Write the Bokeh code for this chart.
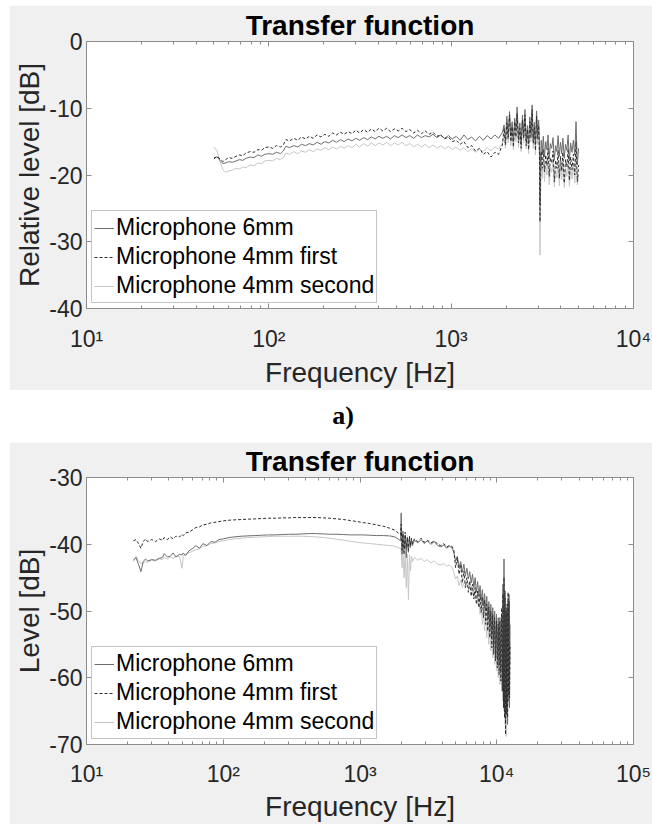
from bokeh.plotting import figure
from bokeh.models import Range1d, FixedTicker, LogAxis, LinearAxis, Legend, LegendItem, Div
from bokeh.layouts import column
from bokeh.embed import file_html
from bokeh.resources import INLINE

# ---------------- data: panel a (Relative level) ----------------
series_names = ["Microphone 6mm", "Microphone 4mm first", "Microphone 4mm second"]

top_freq_low = [50, 52, 54, 56, 58, 60, 63, 66, 69, 72, 75, 79, 83, 87, 91, 95, 100, 105, 110, 116,
                120, 124, 130, 137, 144, 151, 159, 167, 175, 184, 193, 203, 213, 224, 235, 247, 259,
                272, 286, 300, 315, 331, 348, 365, 383, 402, 422, 443, 465, 488, 512, 538, 565, 593,
                623, 654, 687, 721, 757, 795, 835, 877, 920, 966, 1015, 1065, 1120, 1175, 1235, 1295,
                1360, 1430, 1500, 1575, 1655, 1735, 1820, 1910]
top_freq_high = [1950, 1985, 2020, 2055, 2090, 2125, 2160, 2195, 2230, 2265, 2300, 2340, 2380, 2420,
                 2460, 2500, 2540, 2580, 2620, 2660, 2700, 2740, 2780, 2820, 2860, 2900, 2940, 2980,
                 3020, 3050, 3070, 3090, 3120, 3160, 3200, 3250, 3300, 3350, 3400, 3450, 3500, 3560,
                 3620, 3680, 3740, 3800, 3860, 3920, 3980, 4040, 4100, 4170, 4240, 4310, 4380, 4450,
                 4520, 4600, 4680, 4760, 4840, 4920, 5000]

top_6mm_low = [-17.4, -17.3, -17.8, -18.3, -18.2, -18.0, -18.1, -17.9, -17.7, -17.8, -17.5,
               -17.3, -17.4, -17.0, -17.2, -16.9, -16.8, -16.9, -16.6, -16.8, -16.4,
               -15.7, -15.9, -15.6, -15.8, -15.4, -15.6, -15.3, -15.5, -15.1, -15.4,
               -15.0, -15.2, -14.8, -15.1, -14.7, -15.0, -14.6, -14.9, -14.5, -14.8,
               -14.4, -14.7, -14.3, -14.6, -14.2, -14.5, -14.2, -14.6, -14.1, -14.4,
               -14.0, -14.4, -14.1, -14.5, -14.0, -14.4, -14.1, -14.3, -13.9, -14.4,
               -14.0, -14.5, -14.1, -14.6, -14.2, -14.8, -14.0, -14.7, -14.3, -14.9,
               -14.2, -14.8, -14.1, -14.6, -14.0, -14.5, -13.6]
top_6mm_high = [-12.5, -14.8, -11.2, -13.9, -10.5, -14.2, -12.0, -15.0, -11.5, -13.2, -9.8, -14.5,
                -12.2, -15.3, -11.0, -13.8, -10.2, -14.9, -12.6, -15.2, -11.3, -13.5, -9.5, -14.6,
                -12.1, -15.4, -10.4, -13.7, -11.8, -15.5, -24.5, -17.5, -14.8, -16.9, -14.2, -17.3,
                -15.0, -16.2, -14.0, -17.6, -15.3, -16.0, -14.4, -17.8, -15.6, -16.5, -14.1, -17.2,
                -15.1, -16.8, -14.5, -17.5, -15.4, -16.3, -14.0, -17.9, -15.2, -16.6, -14.8, -17.0,
                -12.0, -18.5, -16.0]

top_4first_low = [-17.6, -17.2, -17.6, -18.0, -17.7, -17.4, -17.5, -17.2, -17.0, -17.1, -16.7,
                  -16.5, -16.6, -16.2, -16.3, -15.9, -15.8, -16.0, -15.6, -15.8, -15.5,
                  -14.7, -14.9, -14.5, -14.8, -14.3, -14.6, -14.2, -14.5, -14.0, -14.3,
                  -13.9, -14.2, -13.7, -14.0, -13.6, -13.9, -13.5, -13.8, -13.3, -13.7,
                  -13.2, -13.6, -13.1, -13.5, -13.0, -13.4, -13.0, -13.5, -13.1, -13.4,
                  -13.0, -13.5, -13.2, -13.7, -13.3, -13.8, -13.4, -13.9, -13.6, -14.2,
                  -14.0, -14.6, -14.3, -15.0, -14.8, -15.4, -15.0, -15.9, -15.6, -16.4,
                  -16.0, -16.9, -16.5, -17.3, -16.6, -16.9, -15.5]
top_4first_high = [-13.0, -15.5, -12.2, -14.6, -11.0, -15.0, -12.8, -15.8, -12.0, -14.3, -10.8, -15.2,
                   -13.0, -16.0, -11.8, -14.5, -11.0, -15.6, -13.2, -16.2, -12.0, -14.4, -10.2, -15.3,
                   -12.9, -16.3, -11.2, -14.6, -12.6, -16.8, -27.0, -21.0, -16.5, -19.0, -16.2, -19.5,
                   -17.0, -18.6, -16.0, -20.2, -17.4, -18.2, -16.4, -21.0, -17.8, -19.0, -16.3, -20.5,
                   -17.2, -19.4, -16.6, -21.2, -17.7, -18.8, -16.1, -20.8, -17.3, -19.2, -16.9, -20.0,
                   -15.0, -21.0, -18.5]

top_4second_low = [-15.8, -16.4, -18.0, -19.2, -19.6, -19.4, -19.3, -19.0, -19.1, -18.8, -18.9,
                   -18.5, -18.6, -18.2, -18.3, -17.9, -17.8, -17.9, -17.5, -17.7, -17.4,
                   -16.7, -16.9, -16.5, -16.8, -16.4, -16.6, -16.2, -16.5, -16.1, -16.3,
                   -15.9, -16.2, -15.8, -16.1, -15.7, -16.0, -15.6, -15.9, -15.4, -15.8,
                   -15.3, -15.7, -15.2, -15.6, -15.2, -15.5, -15.1, -15.6, -15.2, -15.5,
                   -15.1, -15.6, -15.3, -15.8, -15.4, -15.8, -15.4, -15.9, -15.5, -16.0,
                   -15.6, -16.1, -15.7, -16.2, -15.8, -16.3, -15.9, -16.5, -16.0, -16.6,
                   -16.1, -16.5, -15.9, -16.4, -15.8, -16.1, -15.2]
top_4second_high = [-14.0, -16.0, -12.8, -15.2, -11.8, -15.6, -13.5, -16.2, -12.6, -15.0, -11.5, -15.9,
                    -13.6, -16.5, -12.5, -15.2, -11.8, -16.1, -13.8, -16.8, -12.6, -15.0, -11.0, -16.0,
                    -13.5, -17.0, -12.0, -15.4, -13.4, -18.0, -32.0, -23.5, -18.0, -20.5, -17.6, -21.0,
                    -18.5, -20.0, -17.5, -21.5, -18.8, -19.6, -17.9, -21.8, -19.2, -20.4, -17.8, -21.6,
                    -18.6, -20.7, -18.0, -21.9, -19.0, -20.2, -17.6, -21.7, -18.8, -20.6, -18.2, -21.2,
                    -17.0, -21.5, -20.0]

# ---------------- data: panel b (Level) ----------------
bot_freq_low = [22, 23, 24, 25, 26, 27, 28, 30, 32, 34, 36, 37, 39, 41, 43, 45, 48, 50, 51, 53,
                56, 60, 63, 67, 71, 76, 81, 87, 93, 100, 110, 120, 135, 150, 170, 190, 215, 240, 270,
                300, 340, 380, 430, 480, 540, 600, 680, 760, 850, 950, 1050, 1180, 1320, 1480, 1650,
                1800, 1900, 1980]
bot_freq_spike = [2000, 2030, 2060, 2100, 2140, 2180, 2220, 2260, 2300, 2340, 2380, 2420]
bot_freq_mid = [2500, 2650, 2800, 2950, 3100, 3300, 3500, 3700, 3900, 4100, 4300, 4500, 4700, 4850]
bot_freq_high = [5000, 5150, 5300, 5450, 5600, 5750, 5900, 6050, 6200, 6350, 6500, 6650, 6800, 6950,
                 7100, 7250, 7400, 7550, 7700, 7850, 8000, 8150, 8300, 8450, 8600, 8750, 8900, 9050,
                 9200, 9350, 9500, 9650, 9800, 9950, 10100, 10250, 10400, 10550, 10700, 10850, 11000,
                 11100, 11200, 11300, 11400, 11500, 11600, 11700, 11800, 11900, 12000, 12100, 12200,
                 12300, 12400, 12500]

bot_6mm = [-42.4, -42.0, -43.0, -44.1, -42.6, -42.2, -42.5, -42.3, -42.4, -42.1,
           -42.0, -41.4, -41.9, -41.8, -41.3, -41.9, -41.5, -41.6, -41.3, -41.7,
           -41.0, -40.6, -40.2, -40.6, -39.9, -40.2, -39.6, -39.7, -39.3, -39.2,
           -39.0, -38.9, -38.8, -38.75, -38.7, -38.65, -38.6, -38.6, -38.55, -38.5,
           -38.5, -38.45, -38.4, -38.4, -38.45, -38.5, -38.5, -38.55, -38.6, -38.6,
           -38.6, -38.65, -38.7, -38.7, -38.75, -38.9, -39.2, -39.5,
           -35.3, -41.5, -38.0, -40.8, -38.6, -42.0, -38.9, -41.2, -39.0, -40.5, -39.3, -40.2,
           -39.4, -39.8, -39.3, -39.9, -39.5, -40.0, -39.6, -40.2, -40.4, -40.1, -40.6, -40.3, -40.5, -41.2,
           -42.5, -41.8, -43.5, -42.6, -44.2, -43.0, -44.8, -43.6, -45.2, -44.1,
           -45.8, -44.5, -46.5, -45.0, -47.2, -45.6, -47.8, -46.2, -48.5, -46.8,
           -49.2, -47.4, -50.0, -47.8, -51.0, -48.6, -52.5, -49.0, -53.8, -49.5,
           -55.0, -50.0, -56.5, -50.5, -57.0, -51.0, -58.0, -51.5, -59.0, -50.5,
           -61.0, -46.0, -63.0, -42.2, -65.0, -48.0, -66.5, -49.5, -64.0, -50.0,
           -67.0, -48.5, -63.5, -47.5, -64.5, -52.0]
bot_4first = [-39.5, -39.3, -39.9, -40.6, -39.6, -39.2, -39.6, -39.3, -39.6, -39.2,
              -39.4, -39.0, -39.3, -38.9, -39.2, -38.8, -38.9, -38.5, -38.7, -38.3,
              -38.2, -37.8, -37.5, -37.4, -37.1, -37.0, -36.8, -36.7, -36.6, -36.5,
              -36.4, -36.35, -36.3, -36.25, -36.2, -36.15, -36.1, -36.1, -36.05, -36.05,
              -36.0, -36.0, -36.0, -36.0, -36.05, -36.1, -36.2, -36.3, -36.45, -36.6,
              -36.75, -36.9, -37.1, -37.3, -37.6, -37.9, -38.3, -38.6,
              -37.0, -40.9, -38.4, -41.5, -38.2, -40.6, -39.0, -40.9, -38.8, -40.2, -39.1, -39.9,
              -39.2, -39.6, -39.1, -39.7, -39.4, -39.8, -39.5, -40.0, -40.2, -39.9, -40.4, -40.2, -40.3, -40.8,
              -43.5, -42.0, -44.5, -43.0, -45.8, -44.0, -46.5, -45.0, -47.2, -45.5,
              -47.8, -46.0, -48.2, -46.5, -49.0, -47.0, -49.5, -47.5, -50.2, -48.0,
              -51.0, -48.4, -52.0, -49.0, -53.0, -49.4, -54.0, -50.0, -55.5, -50.5,
              -56.5, -51.0, -57.5, -51.5, -58.5, -52.0, -59.5, -51.0, -60.5, -49.5,
              -62.0, -47.5, -64.5, -45.0, -66.0, -47.0, -68.5, -50.0, -65.5, -49.0,
              -66.0, -47.2, -62.5, -48.5, -63.0, -55.0]
bot_4second = [-42.6, -41.8, -42.4, -42.9, -42.8, -42.6, -42.7, -42.4, -42.5, -42.2,
               -42.3, -42.0, -42.2, -41.9, -42.1, -41.8, -41.9, -43.6, -41.7, -41.5,
               -41.3, -41.0, -40.8, -40.7, -40.3, -40.2, -39.9, -39.8, -39.6, -39.5,
               -39.3, -39.2, -39.1, -39.0, -38.95, -38.9, -38.85, -38.8, -38.8, -38.8,
               -38.8, -38.8, -38.85, -38.9, -39.0, -39.1, -39.25, -39.4, -39.55, -39.7,
               -39.8, -39.9, -40.0, -40.1, -40.2, -40.3, -40.5, -40.6,
               -41.0, -43.5, -40.8, -45.0, -41.2, -46.5, -41.5, -48.3, -41.6, -44.0, -41.8, -42.6,
               -42.0, -42.4, -42.1, -42.6, -42.3, -42.8, -42.5, -43.0, -43.1, -42.9, -43.3, -43.1, -43.4, -44.2,
               -45.2, -44.8, -46.2, -45.4, -46.5, -45.8, -46.0, -46.4, -45.8, -46.6,
               -46.2, -47.5, -47.0, -48.2, -47.5, -49.0, -48.0, -50.5, -48.8, -52.0,
               -49.5, -53.0, -50.0, -54.0, -50.5, -55.0, -51.0, -56.0, -51.5, -57.0,
               -52.0, -58.0, -52.5, -59.0, -53.0, -60.0, -53.5, -61.0, -53.0, -62.0,
               -52.0, -63.5, -51.0, -65.0, -50.0, -67.0, -51.5, -68.8, -52.0, -66.0,
               -50.5, -64.0, -49.5, -62.5, -51.0, -58.0]

top_x_ticks = [10, 100, 1000, 10000]
top_x_labels = ["10\u00b9", "10\u00b2", "10\u00b3", "10\u2074"]
top_y_ticks = [-40, -30, -20, -10, 0]
top_y_labels = ["-40", "-30", "-20", "-10", "0"]
bot_x_ticks = [10, 100, 1000, 10000, 100000]
bot_x_labels = ["10\u00b9", "10\u00b2", "10\u00b3", "10\u2074", "10\u2075"]
bot_y_ticks = [-70, -60, -50, -40, -30]
bot_y_labels = ["-70", "-60", "-50", "-40", "-30"]

top_freq = top_freq_low + top_freq_high
top_series = [top_6mm_low + top_6mm_high, top_4first_low + top_4first_high,
              top_4second_low + top_4second_high]
bot_freq = bot_freq_low + bot_freq_spike + bot_freq_mid + bot_freq_high
bot_series = [bot_6mm, bot_4first, bot_4second]

# ---------------- styling ----------------
FONT = "Liberation Sans"
GRAY_BG = "#f0f0f0"
AX_COL = "#8c8c8c"
TXT = "#262626"
line_colors = ["#6e6e6e", "#2e2e2e", "#c6c6c6"]
line_dashes = ["solid", "3 2", "solid"]
draw_order = [2, 0, 1]   # light curve underneath, dark curves on top


def minor_positions(decades):
    out = []
    for d in decades:
        for m in range(2, 10):
            out.append(m * d)
    return out


def make_panel(freq, series, xr, yr, xticks, xlabels, yticks, ylabels, ylabel, height, top_margin,
               top_border, bottom_border, xlab_standoff, xaxis_label_standoff):
    p = figure(width=643, height=height, x_axis_type="log", x_range=Range1d(*xr), y_range=Range1d(*yr),
               output_backend="svg", toolbar_location=None, title="Transfer function",
               min_border_left=77, min_border_right=19, min_border_top=top_border,
               min_border_bottom=bottom_border, margin=(top_margin, 0, 0, 9))
    p.background_fill_color = "white"
    p.border_fill_color = GRAY_BG
    p.outline_line_color = AX_COL
    p.outline_line_width = 1
    p.grid.visible = False

    p.title.text_font = FONT
    p.title.text_font_size = "28px"
    p.title.text_font_style = "bold"
    p.title.text_color = "#000000"
    p.title.align = "center"
    p.title.standoff = 2

    xa = p.xaxis[0]
    xa.ticker = FixedTicker(ticks=xticks, minor_ticks=minor_positions(xticks[:-1]))
    xa.major_label_overrides = {t: lab for t, lab in zip(xticks, xlabels)}
    xa.axis_label = "Frequency [Hz]"
    xa.major_label_standoff = xlab_standoff
    xa.axis_label_standoff = xaxis_label_standoff

    ya = p.yaxis[0]
    ya.ticker = FixedTicker(ticks=yticks, minor_ticks=[])
    ya.major_label_overrides = {t: lab for t, lab in zip(yticks, ylabels)}
    ya.axis_label = ylabel
    ya.major_label_standoff = 4
    ya.axis_label_standoff = 1

    for ax in (xa, ya):
        ax.axis_line_color = AX_COL
        ax.major_tick_line_color = AX_COL
        ax.minor_tick_line_color = AX_COL
        ax.major_tick_in = 5
        ax.major_tick_out = 0
        ax.minor_tick_in = 3
        ax.minor_tick_out = 0
        ax.major_label_text_font = FONT
        ax.major_label_text_font_size = "23px"
        ax.major_label_text_color = TXT
        ax.axis_label_text_font = FONT
        ax.axis_label_text_font_size = "28px"
        ax.axis_label_text_font_style = "normal"
        ax.axis_label_text_color = TXT
    ya.minor_tick_line_color = None

    top_ax = LogAxis(ticker=FixedTicker(ticks=xticks, minor_ticks=minor_positions(xticks[:-1])))
    right_ax = LinearAxis(ticker=FixedTicker(ticks=yticks, minor_ticks=[]))
    for ax in (top_ax, right_ax):
        ax.major_label_text_font_size = "1px"
        ax.major_label_text_alpha = 0.0
        ax.major_label_standoff = 0
        ax.axis_line_color = AX_COL
        ax.major_tick_line_color = AX_COL
        ax.minor_tick_line_color = AX_COL
        ax.major_tick_in = 5
        ax.major_tick_out = 0
        ax.minor_tick_in = 3
        ax.minor_tick_out = 0
    right_ax.minor_tick_line_color = None
    p.add_layout(top_ax, "above")
    p.add_layout(right_ax, "right")

    renderers = {}
    for i in draw_order:
        renderers[i] = p.line(x=freq, y=series[i], line_color=line_colors[i], line_width=1,
                              line_dash=line_dashes[i])
    items = [LegendItem(label=series_names[i], renderers=[renderers[i]]) for i in range(3)]

    leg = Legend(items=items, location="bottom_left", margin=5, padding=2, spacing=0,
                 glyph_width=20, glyph_height=20, label_height=29, label_standoff=2,
                 label_text_font=FONT, label_text_font_size="23px", label_text_color="#000000",
                 border_line_color=AX_COL, border_line_width=1, background_fill_color="white",
                 background_fill_alpha=1.0)
    p.add_layout(leg)
    return p


p1 = make_panel(top_freq, top_series, (10, 1e4), (-40, 0), top_x_ticks, top_x_labels, top_y_ticks,
                top_y_labels, "Relative level [dB]", 385, 5, 36, 80, 17, 2)
p2 = make_panel(bot_freq, bot_series, (10, 1e5), (-70, -30), bot_x_ticks, bot_x_labels, bot_y_ticks,
                bot_y_labels, "Level [dB]", 382, 0, 35, 78, 16, 1)

label_a = Div(text='<div style="width:643px;height:52px;line-height:52px;text-align:center;'
                   'font-family:\'Liberation Serif\',serif;font-weight:bold;font-size:26px;color:#000;'
                   'padding-left:25px;box-sizing:border-box;">a)</div>',
              width=643, height=52, margin=(0, 0, 0, 9))

layout = column(p1, label_a, p2, spacing=0)

open("out.html", "w").write(file_html(layout, INLINE))
